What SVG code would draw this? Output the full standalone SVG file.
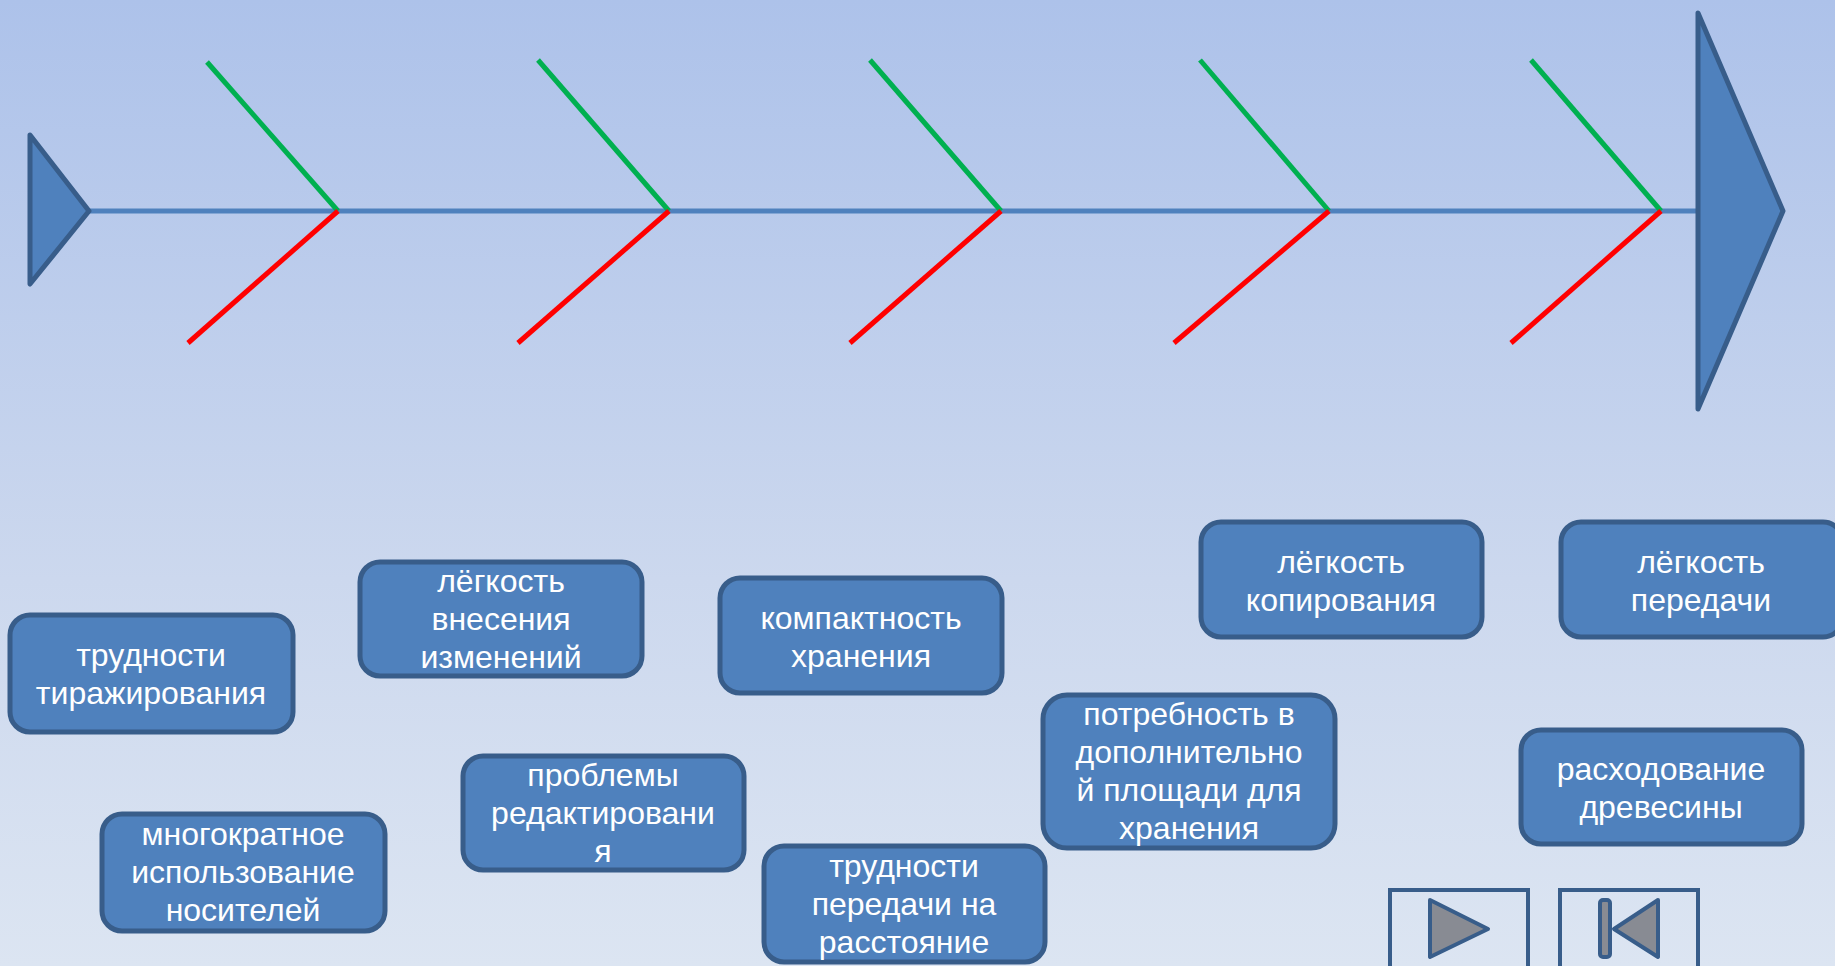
<svg xmlns="http://www.w3.org/2000/svg" width="1835" height="966" viewBox="0 0 1835 966">
<defs>
<linearGradient id="bg" x1="0" y1="0" x2="0" y2="1">
<stop offset="0" stop-color="#adc2ea"/>
<stop offset="0.6" stop-color="#ccd8ee"/>
<stop offset="1" stop-color="#dce5f2"/>
</linearGradient>
</defs>
<style>
.head{fill:#4f81bd;stroke:#385d8a;stroke-width:5;stroke-linejoin:round}
.spine{stroke:#4f81bd;stroke-width:5}
.up{stroke:#00b050;stroke-width:5}
.dn{stroke:#ff0000;stroke-width:5}
.box{fill:#4f81bd;stroke:#385d8a;stroke-width:5}
.t{fill:#ffffff;font-family:"Liberation Sans",Arial,sans-serif;font-size:32px;text-anchor:middle}
.btn{fill:none;stroke:#385d8a;stroke-width:4}
.ico{fill:#888b93;stroke:#385d8a;stroke-width:4;stroke-linejoin:round}
</style>
<rect x="0" y="0" width="1835" height="966" fill="url(#bg)"/>
<g id="connectors">
<line class="spine" x1="89" y1="211" x2="1698" y2="211"/>
<line class="up" x1="207" y1="62" x2="338" y2="211"/>
<line class="dn" x1="188" y1="343" x2="338" y2="211"/>
<line class="up" x1="538" y1="60" x2="669" y2="211"/>
<line class="dn" x1="518" y1="343" x2="669" y2="211"/>
<line class="up" x1="870" y1="60" x2="1001" y2="211"/>
<line class="dn" x1="850" y1="343" x2="1001" y2="211"/>
<line class="up" x1="1200" y1="60" x2="1329" y2="211"/>
<line class="dn" x1="1174" y1="343" x2="1329" y2="211"/>
<line class="up" x1="1531" y1="60" x2="1661" y2="211"/>
<line class="dn" x1="1511" y1="343" x2="1661" y2="211"/>
</g>
<g id="tail"><polygon class="head" points="30,135 89,211 30,284"/></g>
<g id="head"><polygon class="head" points="1698,13 1783,211 1698,409"/></g>
<g id="n1"><rect class="box" x="10" y="615" width="283" height="117" rx="20"/>
<text class="t" x="151" y="666">трудности</text><text class="t" x="151" y="704">тиражирования</text></g>
<g id="n2"><rect class="box" x="102" y="814" width="283" height="117" rx="20"/>
<text class="t" x="243" y="845">многократное</text><text class="t" x="243" y="883">использование</text><text class="t" x="243" y="921">носителей</text></g>
<g id="n3"><rect class="box" x="360" y="562" width="282" height="114" rx="20"/>
<text class="t" x="501" y="592">лёгкость</text><text class="t" x="501" y="630">внесения</text><text class="t" x="501" y="668">изменений</text></g>
<g id="n4"><rect class="box" x="463" y="756" width="281" height="114" rx="20"/>
<text class="t" x="603" y="786">проблемы</text><text class="t" x="603" y="824">редактировани</text><text class="t" x="603" y="862">я</text></g>
<g id="n5"><rect class="box" x="720" y="578" width="282" height="115" rx="20"/>
<text class="t" x="861" y="629">компактность</text><text class="t" x="861" y="667">хранения</text></g>
<g id="n6"><rect class="box" x="764" y="846" width="281" height="116" rx="20"/>
<text class="t" x="904" y="877">трудности</text><text class="t" x="904" y="915">передачи на</text><text class="t" x="904" y="953">расстояние</text></g>
<g id="n7"><rect class="box" x="1043" y="695" width="292" height="153" rx="24"/>
<text class="t" x="1189" y="725">потребность в</text><text class="t" x="1189" y="763">дополнительно</text><text class="t" x="1189" y="801">й площади для</text><text class="t" x="1189" y="839">хранения</text></g>
<g id="n8"><rect class="box" x="1201" y="522" width="281" height="115" rx="20"/>
<text class="t" x="1341" y="573">лёгкость</text><text class="t" x="1341" y="611">копирования</text></g>
<g id="n9"><rect class="box" x="1561" y="522" width="282" height="115" rx="20"/>
<text class="t" x="1701" y="573">лёгкость</text><text class="t" x="1701" y="611">передачи</text></g>
<g id="n10"><rect class="box" x="1521" y="730" width="281" height="114" rx="20"/>
<text class="t" x="1661" y="780">расходование</text><text class="t" x="1661" y="818">древесины</text></g>
<g id="btn-next"><rect class="btn" x="1390" y="890" width="138" height="90"/>
<polygon class="ico" points="1430,900 1488,929 1430,957"/></g>
<g id="btn-first"><rect class="btn" x="1560" y="890" width="138" height="90"/>
<rect class="ico" x="1600" y="900" width="10" height="57" rx="3"/>
<polygon class="ico" points="1658,900 1614,929 1658,957"/></g>
</svg>
